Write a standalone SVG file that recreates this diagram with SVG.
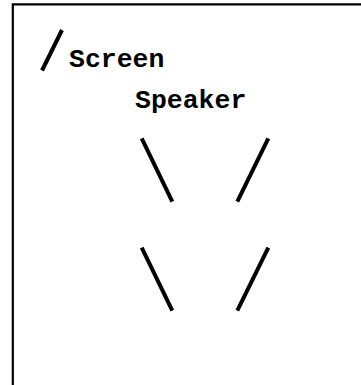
<svg xmlns="http://www.w3.org/2000/svg" width="361" height="385" viewBox="0 0 361 385">
<style>
.t{font-family:"Liberation Mono","Courier New",monospace;font-weight:bold;font-size:26.5px;fill:#000}
.s{stroke:#000;stroke-width:4;fill:none}
</style>
<rect width="361" height="385" fill="#fff"/>
<path d="M12.8,385 V4.3 H361" fill="none" stroke="#000" stroke-width="2.2"/>
<g id="screen">
<line class="s" x1="62" y1="30" x2="42" y2="70.5"/>
<text class="t" x="69" y="67">Screen</text>
</g>
<g id="speaker">
<text class="t" x="135" y="107.5">Speaker</text>
</g>
<g id="connectors">
<line class="s" x1="141.7" y1="138.3" x2="172.3" y2="201.7"/>
<line class="s" x1="268.3" y1="138.3" x2="237.3" y2="201.7"/>
<line class="s" x1="141.7" y1="247.7" x2="172.3" y2="310.7"/>
<line class="s" x1="268.3" y1="247.7" x2="237.3" y2="310.7"/>
</g>
</svg>
